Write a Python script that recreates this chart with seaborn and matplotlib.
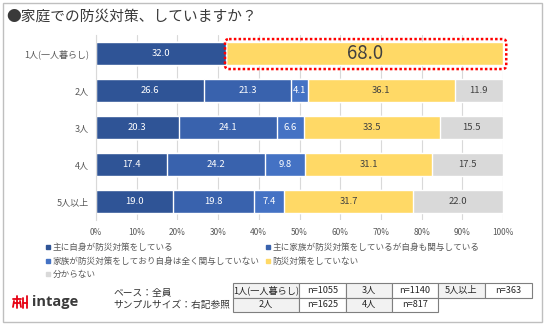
import numpy as np
import pandas as pd
import matplotlib
matplotlib.use("Agg")
import matplotlib.pyplot as plt
from matplotlib.patches import Rectangle, FancyBboxPatch
from matplotlib.lines import Line2D
import seaborn as sns

# ---- data -------------------------------------------------------------
title = "●家庭での防災対策、していますか？"
households = ["1人(一人暮らし)", "2人", "3人", "4人", "5人以上"]

series_names = [
    "主に自身が防災対策をしている",
    "主に家族が防災対策をしているが自身も関与している",
    "家族が防災対策をしており自身は全く関与していない",
    "防災対策をしていない",
    "分からない",
]
self_main = [32.0, 26.6, 20.3, 17.4, 19.0]
family_main_self_involved = [0.0, 21.3, 24.1, 24.2, 19.8]
family_only = [0.0, 4.1, 6.6, 9.8, 7.4]
no_measures = [68.0, 36.1, 33.5, 31.1, 31.7]
unknown = [0.0, 11.9, 15.5, 17.5, 22.0]

x_ticks = [0, 10, 20, 30, 40, 50, 60, 70, 80, 90, 100]

base_note = "ベース：全員"
sample_note = "サンプルサイズ：右記参照"
table_groups = ["1人(一人暮らし)", "2人", "3人", "4人", "5人以上"]
sample_sizes = [1055, 1625, 1140, 817, 363]

# ---- style ------------------------------------------------------------
sns.set_theme(style="white")
plt.rcParams["font.family"] = ["Noto Sans CJK JP", "DejaVu Sans"]

colors = ["#2F5496", "#3962AD", "#4472C4", "#FFD966", "#D9D9D9"]
label_colors = ["white", "white", "white", "#404040", "#404040"]
text_gray = "#595959"

W, H = 546, 326
fx = lambda px: px / W
fy = lambda py: 1 - py / H

fig = plt.figure(figsize=(W / 100, H / 100), dpi=100)
ax = fig.add_axes([fx(96), fy(220), fx(503) - fx(96), fy(35) - fy(220)])

values = np.array([self_main, family_main_self_involved, family_only,
                   no_measures, unknown])
cum = values.cumsum(axis=0)
df = pd.DataFrame({"世帯人数": households})
for i, name in enumerate(series_names):
    df[name] = cum[i]

# stacked bars: draw the running totals from the outermost segment inward
for i in reversed(range(len(series_names))):
    sns.barplot(data=df, x=series_names[i], y="世帯人数", orient="h",
                color=colors[i], saturation=1, width=0.62,
                edgecolor="white", linewidth=1.0, ax=ax, zorder=2)

# segment value labels
starts = cum - values
for i in range(len(series_names)):
    for r in range(len(households)):
        v = values[i, r]
        if v <= 0:
            continue
        big = (r == 0 and i == 3)
        ax.text(starts[i, r] + v / 2, r, f"{v:.1f}", ha="center", va="center",
                color=label_colors[i], fontsize=13.5 if big else 6.8,
                zorder=5)

# highlight frame around the single-person "no measures" bar
hl_start = starts[3, 0]
hl_end = cum[3, 0]
frame = FancyBboxPatch((hl_start - 0.3, -0.39), hl_end - hl_start + 1.1, 0.81,
                       boxstyle="round,pad=0,rounding_size=1.0",
                       mutation_aspect=0.1, fill=False, edgecolor="#FF0000",
                       linewidth=1.8, linestyle=(0, (1, 0.9)),
                       clip_on=False, zorder=6)
ax.add_patch(frame)

# axes
ax.set_xlim(0, 100)
ax.set_ylim(4.5, -0.5)
ax.set_xticks(x_ticks)
ax.set_xticklabels([f"{t}%" for t in x_ticks])
ax.set_xlabel("")
ax.set_ylabel("")
ax.grid(axis="x", color="#D9D9D9", linewidth=0.8, zorder=0)
ax.grid(axis="y", visible=False)
ax.set_axisbelow(True)
for s in ["top", "right", "bottom"]:
    ax.spines[s].set_visible(False)
ax.spines["left"].set_color("#D9D9D9")
ax.spines["left"].set_linewidth(0.8)
ax.tick_params(axis="x", length=0, labelsize=6, labelcolor=text_gray, pad=6)
ax.tick_params(axis="y", which="major", length=0, labelsize=6.5,
               labelcolor=text_gray, pad=5)
ax.set_yticks(np.arange(-0.5, 5, 1.0), minor=True)
ax.tick_params(axis="y", which="minor", length=3.5, color="#D9D9D9", width=0.8)

# title
fig.text(fx(6), fy(17), title, fontsize=10.6, color="#3A3A3A",
         ha="left", va="center")

# legend (row-wise, two columns)
legend_pos = [(48, 247), (268, 247), (48, 261), (268, 261), (48, 274)]
for i, name in enumerate(series_names):
    mx, my = legend_pos[i]
    fig.add_artist(Line2D([fx(mx)], [fy(my)], marker="s", markersize=2.2,
                          color=colors[i], linestyle="none",
                          transform=fig.transFigure))
    fig.text(fx(mx + 4.5), fy(my), name, fontsize=6.2, color=text_gray,
             ha="left", va="center")

# notes
fig.text(fx(113), fy(293), base_note, fontsize=7, color="#333333",
         ha="left", va="center")
fig.text(fx(113), fy(305), sample_note, fontsize=7, color="#333333",
         ha="left", va="center")

# sample-size table
col_edges = [233, 299, 346, 392, 438, 485, 532]
row_edges = [283, 297.5, 312]
for g, (grp, n) in enumerate(zip(table_groups, sample_sizes)):
    col, row = (g // 2) * 2, g % 2
    y0, y1 = row_edges[row], row_edges[row + 1]
    for k, (txt, face) in enumerate([(grp, "#F2F2F2"), (f"n={n}", "white")]):
        x0, x1 = col_edges[col + k], col_edges[col + k + 1]
        fig.add_artist(Rectangle((fx(x0), fy(y1)), fx(x1) - fx(x0),
                                 fy(y0) - fy(y1), facecolor=face,
                                 edgecolor="#7F7F7F", linewidth=0.8,
                                 transform=fig.transFigure))
        fig.text(fx((x0 + x1) / 2), fy((y0 + y1) / 2), txt, fontsize=6.6,
                 color="#262626", ha="center", va="center")

# logo
red = "#E60012"
logo_lines = [
    ([13, 21], [299, 299]), ([17, 17], [296, 308]), ([14, 13], [301, 307]),
    ([20, 21], [301, 307]), ([14, 20], [303, 303]),
    ([23, 23], [298, 308]), ([27, 27], [296, 308]), ([23, 27], [303, 303]),
]
for xs, ys in logo_lines:
    fig.add_artist(Line2D([fx(x) for x in xs], [fy(y) for y in ys],
                          color=red, linewidth=1.3, solid_capstyle="round",
                          transform=fig.transFigure))
fig.text(fx(32), fy(302), "intage", fontsize=10.5, color="#3A3A3A",
         fontweight="bold", ha="left", va="center",
         family=["Open Sans", "DejaVu Sans"])

# outer frame
fig.add_artist(Rectangle((fx(3), fy(322)), fx(542) - fx(3), fy(3) - fy(322),
                         fill=False, edgecolor="#BFBFBF", linewidth=1.0,
                         transform=fig.transFigure))

fig.savefig("out.png", dpi=100)
